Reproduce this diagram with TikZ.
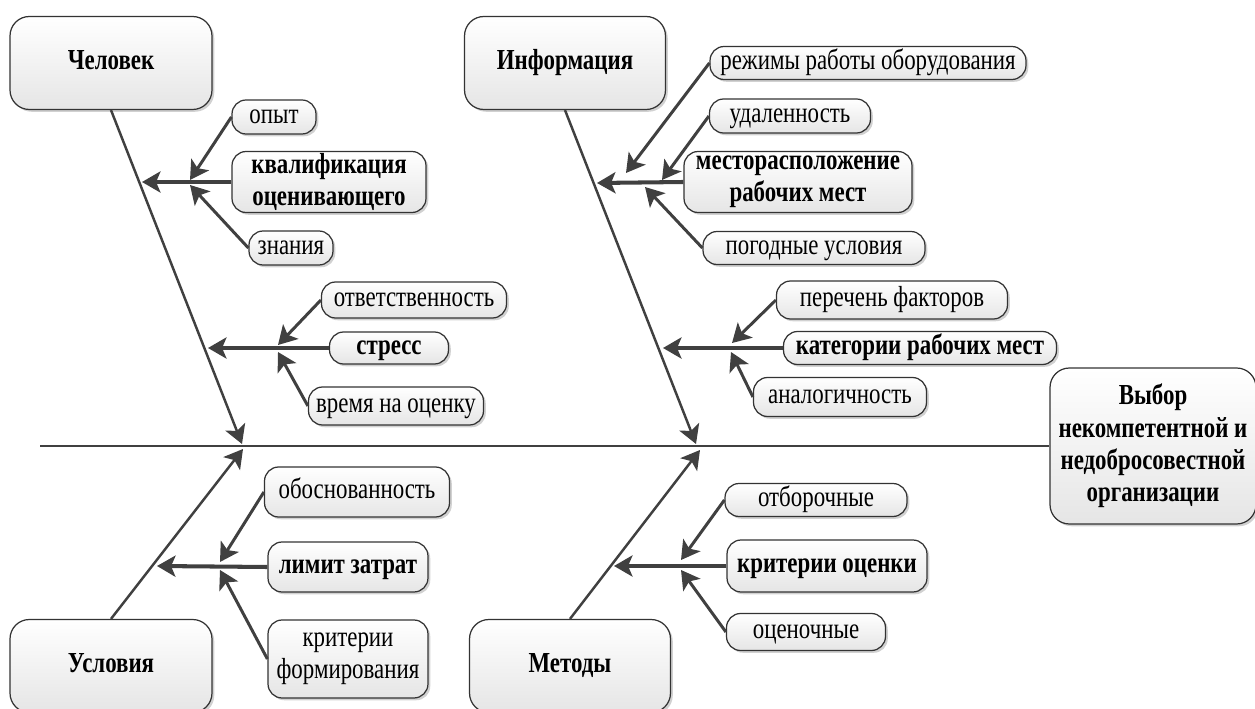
\documentclass[tikz,border=0pt]{standalone}
\usepackage{fontspec}
\setmainfont{Liberation Serif}[FakeStretch=0.79]
\usetikzlibrary{arrows.meta,shadows}
\definecolor{ln}{HTML}{404040}
\definecolor{bd}{HTML}{333333}
\newcommand\labelfont{\fontsize{16.5}{18.4}\selectfont}
\tikzset{
  box/.style={draw=bd, line width=0.7pt, top color=white, bottom color=black!10,
    inner sep=0pt, align=center, font=\labelfont,
    drop shadow={shadow xshift=1.3pt, shadow yshift=-1.3pt, fill=black!40, opacity=0.45}},
  one/.style={text height=11.2pt, text depth=3.6pt},
  bigbox/.style={box, rounded corners=11pt, font=\bfseries\labelfont},
  smbox/.style={box, rounded corners=8pt},
  bsmbox/.style={smbox, font=\bfseries\labelfont},
  tip/.style={-{Stealth[length=10.5pt,width=12pt,inset=2.5pt]}, draw=ln},
  bone/.style={tip, line width=1.4pt},
  twig/.style={tip, line width=1.7pt},
  rib/.style={tip, line width=2.3pt},
  spine/.style={draw=ln, line width=1.7pt}
}
\begin{document}
\begin{tikzpicture}[x=0.02cm, y=-0.02cm]
\useasboundingbox (0,0) rectangle (1255,709);

% main category boxes
\node[bigbox, one, minimum width=4.04cm, minimum height=1.86cm] (chel) at (111,63) {Человек};
\node[bigbox, one, minimum width=4.02cm, minimum height=1.86cm] (info) at (565,63) {Информация};
\node[bigbox, one, minimum width=4.04cm, minimum height=1.86cm] (usl) at (111,666) {Условия};
\node[bigbox, one, minimum width=4.02cm, minimum height=1.86cm] (met) at (570,666) {Методы};
\node[bigbox, minimum width=4.12cm, minimum height=3.12cm] (vybor) at (1153,446)
  {Выбор\\некомпетентной и\\недобросовестной\\организации};

% spine
\coordinate (spL) at (40,446);
\draw[spine] (spL) -- (vybor.west);

% main bones
\coordinate (tChel) at (242,444);
\coordinate (tInfo) at (696,444);
\coordinate (tUsl) at (243,449);
\coordinate (tMet) at (700,450);
\draw[bone] (chel.south) -- (tChel);
\draw[bone] (info.south) -- (tInfo);
\draw[bone] (usl.north) -- (tUsl);
\draw[bone] (met.north) -- (tMet);

% Человек: квалификация
\node[smbox, one, minimum width=1.68cm, minimum height=0.68cm] (opyt) at (274,117) {опыт};
\node[bsmbox, minimum width=3.88cm, minimum height=1.22cm] (kval) at (329,182) {квалификация\\оценивающего};
\node[smbox, one, minimum width=1.68cm, minimum height=0.68cm] (znan) at (291,248) {знания};
\coordinate (tKval) at (142,182);
\coordinate (tOpyt) at (190,180);
\coordinate (tZnan) at (190,185);
\draw[rib] (kval.west) -- (tKval);
\draw[twig] (opyt.west) -- (tOpyt);
\draw[twig] (znan.west) -- (tZnan);

% Человек: стресс
\node[smbox, one, minimum width=3.7cm, minimum height=0.72cm] (otv) at (414,300) {ответственность};
\node[bsmbox, one, minimum width=2.38cm, minimum height=0.64cm] (stress) at (389,348) {стресс};
\node[smbox, one, minimum width=3.5cm, minimum height=0.76cm] (vrem) at (396,406) {время на оценку};
\coordinate (tStress) at (208,348);
\coordinate (tOtv) at (278,345);
\coordinate (tVrem) at (278,352);
\draw[rib] (stress.west) -- (tStress);
\draw[twig] (otv.west) -- (tOtv);
\draw[twig] (vrem.west) -- (tVrem);

% Информация: месторасположение
\node[smbox, one, minimum width=6.32cm, minimum height=0.66cm] (rezh) at (868,63) {режимы работы оборудования};
\node[smbox, one, minimum width=3.22cm, minimum height=0.68cm] (udal) at (790,116) {удаленность};
\node[bsmbox, minimum width=4.56cm, minimum height=1.22cm] (mesto) at (798,182) {месторасположение\\рабочих мест};
\node[smbox, one, minimum width=4.44cm, minimum height=0.66cm] (pogod) at (814,248) {погодные условия};
\coordinate (tMesto) at (597,183);
\coordinate (tRezh) at (626,173);
\coordinate (tUdal) at (662,180);
\coordinate (tPogod) at (645,187);
\draw[rib] (mesto.west) -- (tMesto);
\draw[twig] (rezh.west) -- (tRezh);
\draw[twig] (udal.west) -- (tUdal);
\draw[twig] (pogod.west) -- (tPogod);

% Информация: категории
\node[smbox, one, minimum width=4.62cm, minimum height=0.76cm] (perech) at (892,300) {перечень факторов};
\node[bsmbox, one, minimum width=5.46cm, minimum height=0.66cm] (kateg) at (920,348) {категории рабочих мест};
\node[smbox, one, minimum width=3.46cm, minimum height=0.78cm] (analog) at (840,397) {аналогичность};
\coordinate (tKateg) at (663,348);
\coordinate (tPerech) at (732,343);
\coordinate (tAnalog) at (731,352);
\draw[rib] (kateg.west) -- (tKateg);
\draw[twig] (perech.west) -- (tPerech);
\draw[twig] (analog.west) -- (tAnalog);

% Условия: лимит затрат
\node[smbox, one, minimum width=3.7cm, minimum height=1.0cm] (obosn) at (357,492) {обоснованность};
\node[bsmbox, one, minimum width=3.2cm, minimum height=1.0cm] (limit) at (348,567) {лимит затрат};
\node[smbox, minimum width=3.2cm, minimum height=1.56cm] (kritf) at (348,659) {критерии\\формирования};
\coordinate (tLimit) at (157,566);
\coordinate (tObosn) at (220,562);
\coordinate (tKritf) at (220,570);
\draw[rib] (limit.west) -- (tLimit);
\draw[twig] (obosn.west) -- (tObosn);
\draw[twig] (kritf.west) -- (tKritf);

% Методы: критерии оценки
\node[smbox, one, minimum width=3.64cm, minimum height=0.66cm] (otbor) at (816,500) {отборочные};
\node[bsmbox, one, minimum width=4.0cm, minimum height=1.04cm] (krito) at (827,566) {критерии оценки};
\node[smbox, one, minimum width=3.18cm, minimum height=0.74cm] (ocen) at (806,632) {оценочные};
\coordinate (tKrito) at (614,566);
\coordinate (tOtbor) at (681,560);
\coordinate (tOcen) at (681,570);
\draw[rib] (krito.west) -- (tKrito);
\draw[twig] (otbor.west) -- (tOtbor);
\draw[twig] (ocen.west) -- (tOcen);
\end{tikzpicture}
\end{document}
